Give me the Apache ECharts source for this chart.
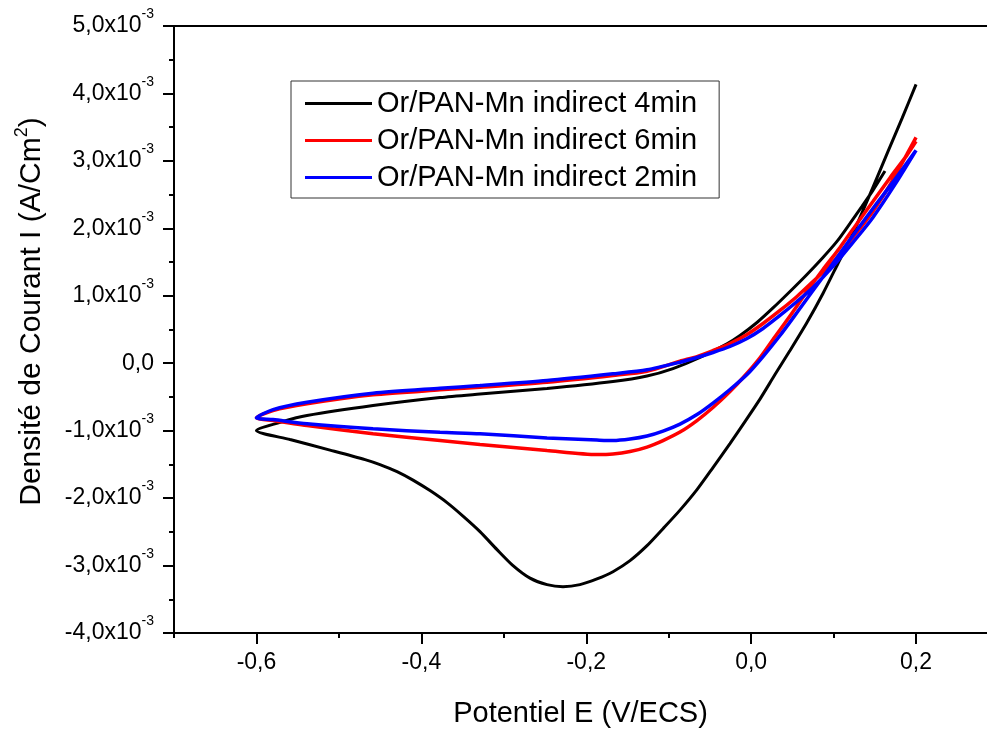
<!DOCTYPE html>
<html>
<head>
<meta charset="utf-8">
<script src="https://cdn.jsdelivr.net/npm/echarts@6/dist/echarts.min.js"></script>
<style>
html,body{margin:0;padding:0;background:#fff;}
#chart{width:987px;height:735px;}
</style>
</head>
<body>
<div id="chart"></div>
<script>
// Values: potential E (V/ECS), current density I in units of 1e-3 A/cm²
const seriesNames = ['Or/PAN-Mn indirect 4min', 'Or/PAN-Mn indirect 6min', 'Or/PAN-Mn indirect 2min'];

const blackE = [0.1623, 0.1477, 0.1344, 0.1199, 0.1041, 0.0871, 0.0677, 0.0471, 0.0265, 0.0071, -0.0135, -0.0293, -0.062, -0.0948, -0.1263, -0.1676, -0.2476, -0.3289, -0.3774, -0.4586, -0.5387, -0.5678, -0.600,
  -0.5593, -0.5108, -0.4683, -0.4502, -0.4295, -0.4101, -0.3895, -0.3689, -0.3495, -0.3289, -0.3082, -0.2888, -0.2682, -0.2476, -0.2282, -0.2076, -0.1870, -0.1676, -0.1469, -0.1263, -0.1069, -0.0863, -0.0657, -0.0463, -0.0257, -0.0075, 0.0109, 0.0289, 0.0471, 0.0677, 0.0871, 0.1053, 0.1235, 0.1477, 0.166, 0.183, 0.200];
const blackI = [2.849, 2.562, 2.325, 2.073, 1.806, 1.568, 1.316, 1.064, 0.82, 0.604, 0.411, 0.288, 0.085, -0.079, -0.190, -0.272, -0.375, -0.457, -0.509, -0.628, -0.776, -0.865, -0.999,
  -1.132, -1.288, -1.429, -1.503, -1.607, -1.733, -1.889, -2.067, -2.267, -2.497, -2.764, -3.001, -3.187, -3.283, -3.313, -3.283, -3.199, -3.091, -2.927, -2.705, -2.453, -2.178, -1.874, -1.547, -1.191, -0.865, -0.528, -0.168, 0.188, 0.604, 1.034, 1.479, 1.924, 2.607, 3.141, 3.631, 4.135];

const redE = [0.200, 0.1888, 0.1687, 0.1477, 0.1235, 0.0992, 0.0750, 0.0556, 0.0350, 0.0144, -0.0050, -0.0257, -0.0463, -0.0657, -0.0863, -0.1263, -0.1676, -0.2476, -0.3289, -0.3774, -0.4586, -0.5387, -0.5799, -0.600,
  -0.5799, -0.5387, -0.4586, -0.3774, -0.3289, -0.2476, -0.1870, -0.1676, -0.1469, -0.1263, -0.1069, -0.0863, -0.0657, -0.0463, -0.0257, -0.0075, 0.0109, 0.0265, 0.0471, 0.0677, 0.0871, 0.1078, 0.1284, 0.1477, 0.1687, 0.1888, 0.200];
const redI = [3.349, 3.096, 2.651, 2.251, 1.865, 1.494, 1.212, 0.990, 0.782, 0.589, 0.426, 0.292, 0.188, 0.099, 0.030, -0.119, -0.182, -0.282, -0.356, -0.395, -0.469, -0.602, -0.702, -0.810,
  -0.850, -0.924, -1.047, -1.147, -1.206, -1.295, -1.355, -1.347, -1.310, -1.243, -1.147, -1.021, -0.850, -0.657, -0.420, -0.182, 0.085, 0.352, 0.700, 1.064, 1.390, 1.717, 2.073, 2.399, 2.755, 3.082, 3.289];

const blueE = [0.200, 0.1745, 0.1477, 0.1235, 0.0992, 0.0750, 0.0556, 0.0350, 0.0144, -0.0050, -0.0257, -0.0463, -0.0657, -0.0863, -0.1263, -0.1676, -0.2476, -0.3289, -0.3774, -0.4586, -0.5387, -0.5799, -0.600,
  -0.5799, -0.5387, -0.4586, -0.3774, -0.3289, -0.2476, -0.1870, -0.1676, -0.1469, -0.1263, -0.1069, -0.0863, -0.0657, -0.0463, -0.0257, -0.0050, 0.0144, 0.0350, 0.0556, 0.0750, 0.0956, 0.1199, 0.1477, 0.1745, 0.200];
const blueI = [3.156, 2.651, 2.162, 1.791, 1.435, 1.123, 0.915, 0.708, 0.515, 0.366, 0.248, 0.159, 0.085, 0.015, -0.098, -0.157, -0.257, -0.331, -0.371, -0.445, -0.579, -0.687, -0.810,
  -0.835, -0.899, -0.973, -1.024, -1.047, -1.107, -1.139, -1.147, -1.125, -1.080, -1.006, -0.902, -0.761, -0.591, -0.390, -0.168, 0.099, 0.411, 0.752, 1.079, 1.420, 1.835, 2.295, 2.726, 3.156];

const xMajorTicks = [-0.6, -0.4, -0.2, 0.0, 0.2];
const xMinorTicks = [-0.7, -0.5, -0.3, -0.1, 0.1];
const yMin = -4, yMax = 5, yStep = 1;

const FONT = '"Liberation Sans", Arial, Helvetica, sans-serif';
const zip = (xs, ys) => xs.map((x, i) => [x, ys[i]]);

const chart = echarts.init(document.getElementById('chart'), null, {renderer: 'canvas'});

function yLabel(v) {
  if (Math.abs(v) < 1e-9) return '{a|0,0}';
  return '{a|' + v.toFixed(1).replace('.', ',') + 'x10}{s|-3}';
}
function xLabel(v) {
  return (Math.abs(v) < 1e-9 ? 0 : v).toFixed(1).replace('.', ',');
}

const axisLineStyle = {color: '#000', width: 2};

const option = {
  animation: false,
  backgroundColor: '#fff',
  textStyle: {fontFamily: FONT},
  grid: {left: 174, top: 26, width: 813, height: 607, containLabel: false},
  legend: {
    left: 291, top: 81,
    orient: 'vertical',
    data: seriesNames,
    icon: 'rect',
    itemWidth: 67, itemHeight: 3, itemGap: 8,
    padding: [8, 22, 6, 14],
    borderColor: '#333', borderWidth: 1,
    textStyle: {fontFamily: FONT, fontSize: 29, color: '#000', lineHeight: 29}
  },
  xAxis: [
    {
      type: 'value', min: -0.7, max: 0.28605, position: 'bottom',
      axisLine: {show: true, onZero: false, lineStyle: axisLineStyle},
      axisTick: {show: true, inside: false, length: 11, lineStyle: axisLineStyle, customValues: xMajorTicks},
      axisLabel: {show: true, customValues: xMajorTicks, formatter: xLabel, margin: 18, fontSize: 23, color: '#000', fontFamily: FONT},
      splitLine: {show: false},
      name: 'Potentiel E (V/ECS)', nameLocation: 'middle', nameGap: 66,
      nameTextStyle: {fontSize: 29, color: '#000', fontFamily: FONT}
    },
    {
      type: 'value', min: -0.7, max: 0.28605, position: 'bottom',
      axisLine: {show: false, onZero: false},
      axisTick: {show: true, inside: false, length: 5, lineStyle: axisLineStyle, customValues: xMinorTicks},
      axisLabel: {show: false},
      splitLine: {show: false}
    },
    {
      type: 'value', min: -0.7, max: 0.28605, position: 'top',
      axisLine: {show: true, onZero: false, lineStyle: axisLineStyle},
      axisTick: {show: false}, axisLabel: {show: false}, splitLine: {show: false}
    }
  ],
  yAxis: [{
    type: 'value', min: yMin, max: yMax, interval: yStep,
    axisLine: {show: true, onZero: false, lineStyle: axisLineStyle},
    axisTick: {show: true, inside: false, length: 11, lineStyle: axisLineStyle},
    minorTick: {show: true, splitNumber: 2, length: 5, lineStyle: axisLineStyle},
    splitLine: {show: false}, minorSplitLine: {show: false},
    axisLabel: {
      formatter: yLabel, margin: 20, color: '#000',
      rich: {
        a: {fontSize: 23, lineHeight: 23, fontFamily: FONT, color: '#000', verticalAlign: 'bottom'},
        s: {fontSize: 14, lineHeight: 14, fontFamily: FONT, color: '#000', padding: [0, 0, 16, 0], verticalAlign: 'bottom'}
      }
    },
    name: '{a|Densité de Courant I (A/Cm}{s|2}{a|)}',
    nameLocation: 'middle', nameGap: 127, nameRotate: 90,
    nameTextStyle: {
      padding: [0, 0, 0, 36],
      rich: {
        a: {fontSize: 30, lineHeight: 30, fontFamily: FONT, color: '#000', verticalAlign: 'bottom'},
        s: {fontSize: 18, lineHeight: 18, fontFamily: FONT, color: '#000', padding: [0, 0, 16, 0], verticalAlign: 'bottom'}
      }
    }
  }],
  series: [
    {name: seriesNames[0], type: 'line', xAxisIndex: 0, yAxisIndex: 0, data: zip(blackE, blackI), symbol: 'none', showSymbol: false, smooth: 0.25, lineStyle: {color: '#000000', width: 3}, itemStyle: {color: '#000000'}},
    {name: seriesNames[1], type: 'line', xAxisIndex: 0, yAxisIndex: 0, data: zip(redE, redI), symbol: 'none', showSymbol: false, smooth: 0.25, lineStyle: {color: '#ff0000', width: 3.5}, itemStyle: {color: '#ff0000'}},
    {name: seriesNames[2], type: 'line', xAxisIndex: 0, yAxisIndex: 0, data: zip(blueE, blueI), symbol: 'none', showSymbol: false, smooth: 0.25, lineStyle: {color: '#0000ff', width: 3.5}, itemStyle: {color: '#0000ff'}}
  ]
};
chart.setOption(option);
</script>
</body>
</html>
